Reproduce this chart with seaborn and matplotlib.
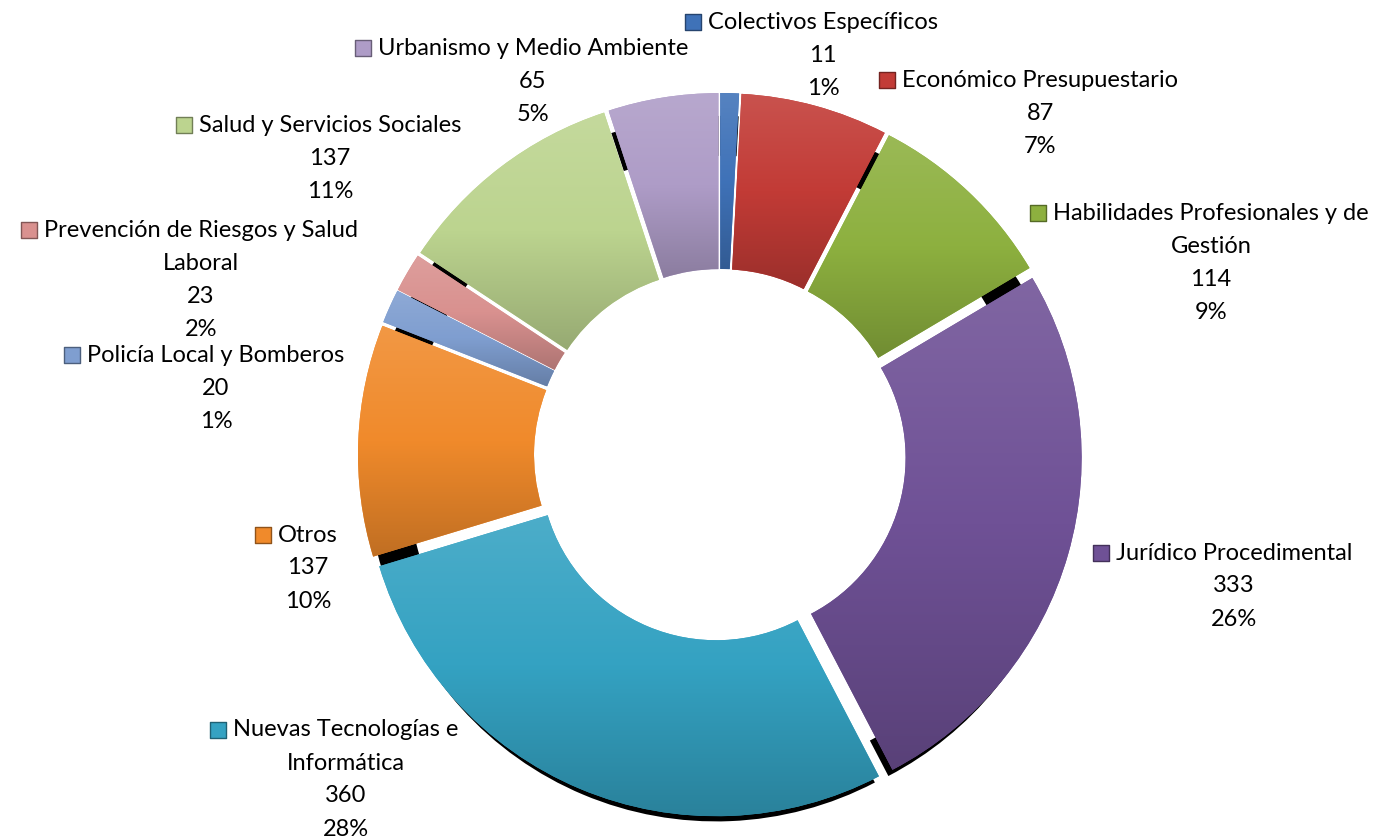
import numpy as np
import matplotlib
matplotlib.use("Agg")
import matplotlib.pyplot as plt
import seaborn as sns
from matplotlib.colors import LinearSegmentedColormap, to_rgb

# ---------------- data ----------------
categories = ["Colectivos Específicos", "Económico Presupuestario",
              "Habilidades Profesionales y de Gestión", "Jurídico Procedimental",
              "Nuevas Tecnologías e Informática", "Otros",
              "Policía Local y Bomberos", "Prevención de Riesgos y Salud Laboral",
              "Salud y Servicios Sociales", "Urbanismo y Medio Ambiente"]
values = [11, 87, 114, 333, 360, 137, 20, 23, 137, 65]
pct_labels = ["1%", "7%", "9%", "26%", "28%", "10%", "1%", "2%", "11%", "5%"]
colors = ["#3F72B8", "#C23B36", "#8DB03F", "#6F5196", "#34A2C2", "#F08A2B",
          "#7F9ED0", "#D9918F", "#BCD48F", "#AE9CC7"]

# ---------------- layout (pixels from top-left) ----------------
W, H = 1380, 838
CX, CY = 720, 455          # donut centre
R = 352                    # outer radius
EXPL = 10                  # explode distance (px)
label_wrap = {
    "Habilidades Profesionales y de Gestión": ["Habilidades Profesionales y de", "Gestión"],
    "Nuevas Tecnologías e Informática": ["Nuevas Tecnologías e", "Informática"],
    "Prevención de Riesgos y Salud Laboral": ["Prevención de Riesgos y Salud", "Laboral"],
}
label_pos = {  # (centre x, first line y)
    "Colectivos Específicos": (823, 22),
    "Económico Presupuestario": (1040, 80),
    "Habilidades Profesionales y de Gestión": (1211, 213),
    "Jurídico Procedimental": (1234, 553),
    "Nuevas Tecnologías e Informática": (346, 730),
    "Otros": (308, 535),
    "Policía Local y Bomberos": (216, 355),
    "Prevención de Riesgos y Salud Laboral": (201, 230),
    "Salud y Servicios Sociales": (330, 125),
    "Urbanismo y Medio Ambiente": (533, 48),
}
LINE = 33

sns.set_theme(style="white")
plt.rcParams['font.family'] = ['Lato', 'DejaVu Sans']

fig = plt.figure(figsize=(W / 100, H / 100), dpi=100)
ax = fig.add_axes([0, 0, 1, 1])

explode = [EXPL] * len(values)

# shadow (thin outer ring, slightly smaller and shifted down)
ax.pie(values, radius=R * 0.975, center=(CX, H - CY - 14), startangle=90,
       counterclock=False, colors=["#000000"] * len(values),
       explode=explode, wedgeprops=dict(width=40, linewidth=0), frame=True)
wedges, _ = ax.pie(values, radius=R, center=(CX, H - CY), startangle=90,
                   counterclock=False, colors=colors, explode=explode,
                   wedgeprops=dict(width=0.5 * R, linewidth=0), frame=True)

# gradient shading clipped to wedges
for w, c in zip(wedges, colors):
    rgb = np.array(to_rgb(c))
    light = np.clip(rgb * 0.88 + 0.12, 0, 1)
    dark = np.clip(rgb * 0.80, 0, 1)
    cmap = LinearSegmentedColormap.from_list("g", [dark, rgb, light])
    ext = w.get_path().get_extents()
    grad = np.linspace(0, 1, 256).reshape(-1, 1)
    im = ax.imshow(grad, cmap=cmap, origin='lower', aspect='auto',
                   extent=[ext.x0, ext.x1, ext.y0, ext.y1], zorder=w.get_zorder() + 0.1)
    im.set_clip_path(w)

ax.set_xlim(0, W)
ax.set_ylim(0, H)
ax.set_aspect('equal')
ax.axis('off')

# labels
fig.canvas.draw()
renderer = fig.canvas.get_renderer()
FS = 17
for cat, val, pct, col in zip(categories, values, pct_labels, colors):
    cx, y0 = label_pos[cat]
    lines = label_wrap.get(cat, [cat]) + [str(val), pct]
    first = None
    for i, ln in enumerate(lines):
        t = ax.text(cx, H - (y0 + i * LINE), ln, ha='center', va='center',
                    fontsize=FS, color='black', zorder=10)
        if i == 0:
            first = t
    bb = first.get_window_extent(renderer)
    ax.scatter([bb.x0 - 15], [H - y0], marker='s', s=120, color=col,
               edgecolor=tuple(np.array(to_rgb(col)) * 0.6), linewidth=1, zorder=10)

fig.savefig("out.png", dpi=100)
